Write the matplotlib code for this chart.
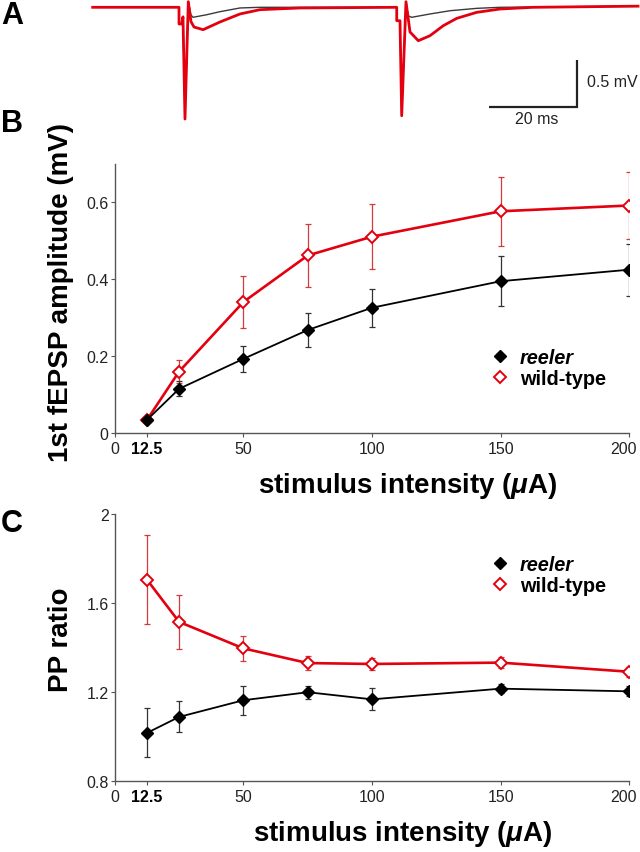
import matplotlib
matplotlib.use("Agg")
import matplotlib.pyplot as plt
from matplotlib.lines import Line2D
from matplotlib.transforms import ScaledTranslation

plt.rcParams['font.family'] = ['Liberation Sans', 'DejaVu Sans']
plt.rcParams['mathtext.fontset'] = 'custom'
plt.rcParams['mathtext.rm'] = 'Liberation Sans:bold'
plt.rcParams['mathtext.it'] = 'Liberation Sans:italic:bold'
plt.rcParams['mathtext.bf'] = 'Liberation Sans:bold'

# ---------------- data ----------------
# Panel A: example traces (time in ms, voltage in mV)
trace_wt_t = [0, 19.75, 19.75, 20.37, 20.66, 21.12, 21.88, 22.49, 23.18, 25.27, 29.13,
              33.71, 38.28, 47.44, 69.57, 69.57, 70.32, 70.71, 71.69, 72.61, 74.51,
              77.19, 80.23, 83.30, 87.87, 93.20, 100.76, 124.78]
trace_wt_v = [0, 0, -0.175, -0.175, -0.10, -1.173, 0.059, -0.150, -0.207, -0.235, -0.154,
              -0.070, -0.025, -0.007, 0.0, -0.141, -0.141, -1.139, 0.059, -0.259, -0.351,
              -0.298, -0.193, -0.116, -0.053, -0.018, 0.0, 0.012]
trace_rl_t = [0, 19.75, 19.75, 20.37, 20.66, 21.12, 21.88, 22.49, 22.95, 26.09, 29.13,
              33.71, 38.28, 69.57, 69.57, 70.32, 70.71, 71.69, 72.2, 73.0, 77.19, 81.76,
              87.87, 93.20, 124.78]
trace_rl_v = [0.003, 0.003, -0.175, -0.175, -0.10, -1.173, 0.059, -0.08, -0.105, -0.078,
              -0.046, -0.007, 0.0, 0.0, -0.141, -0.141, -1.139, 0.059, -0.09, -0.105,
              -0.070, -0.036, -0.011, 0.0, 0.012]
scale_ms = 20
scale_mv = 0.5

# Panels B and C
intensity = [12.5, 25, 50, 75, 100, 150, 200]
amp_wt = [0.034, 0.160, 0.341, 0.462, 0.511, 0.577, 0.592]
amp_wt_err = [0.005, 0.030, 0.067, 0.082, 0.084, 0.090, 0.087]
amp_rl = [0.034, 0.115, 0.193, 0.268, 0.326, 0.395, 0.425]
amp_rl_err = [0.005, 0.020, 0.033, 0.045, 0.050, 0.065, 0.068]
ppr_wt = [1.705, 1.515, 1.396, 1.330, 1.326, 1.332, 1.291]
ppr_wt_err = [0.20, 0.12, 0.055, 0.03, 0.025, 0.025, 0.022]
ppr_rl = [1.016, 1.088, 1.163, 1.199, 1.167, 1.215, 1.203]
ppr_rl_err = [0.11, 0.07, 0.065, 0.03, 0.05, 0.02, 0.022]

xticks = [0, 12.5, 50, 100, 150, 200]
xticklabels = ['0', '12.5', '50', '100', '150', '200']
amp_yticks = [0, 0.2, 0.4, 0.6]
amp_yticklabels = ['0', '0.2', '0.4', '0.6']
ppr_yticks = [0.8, 1.2, 1.6, 2.0]
ppr_yticklabels = ['0.8', '1.2', '1.6', '2']
labels = ['reeler', 'wild-type']

RED = '#e3000f'
ERR_RED = '#d43a3a'
BLACK = '#000000'

W, H = 640, 853
fig = plt.figure(figsize=(6.4, 8.53), dpi=100)

# ---------------- Panel A ----------------
axA = fig.add_axes([0, 1 - 130 / H, 1, 130 / H])
axA.set_xlim(-21.21, 125.24)
axA.set_ylim(-1.278, 0.0872)
axA.axis('off')
axA.plot(trace_rl_t, trace_rl_v, color='#3a3a3a', lw=1.0, zorder=2)
axA.plot(trace_wt_t, trace_wt_v, color=RED, lw=2.0, zorder=3, solid_joinstyle='round')
bx, by = 110.76, -1.05
axA.plot([bx - scale_ms, bx, bx], [by, by, by + scale_mv], color='#222222', lw=1.6,
         solid_joinstyle='miter', solid_capstyle='butt')
axA.text(bx + 2.3, by + scale_mv / 2 + 0.02, '0.5 mV', fontsize=11.5, ha='left', va='center',
         color='#222222')
axA.text(bx - scale_ms / 2 + 0.9, by - 0.115, '20 ms', fontsize=11.5, ha='center', va='center',
         color='#222222')


def style_axes(ax, yticks, yticklabels, ylim):
    ax.set_xlim(0, 200)
    ax.set_ylim(*ylim)
    for s in ['top', 'right']:
        ax.spines[s].set_visible(False)
    for s in ['left', 'bottom']:
        ax.spines[s].set_color('#555555')
        ax.spines[s].set_linewidth(1.0)
    ax.set_xticks(xticks)
    ax.set_xticklabels(xticklabels)
    ax.set_yticks(yticks)
    ax.set_yticklabels(yticklabels)
    ax.tick_params(direction='out', length=3, width=0.8, color='#555555',
                   labelsize=11.5, labelcolor='#222222')
    ax.tick_params(axis='y', pad=1.5)
    ax.tick_params(axis='x', pad=3)
    tls = ax.get_xticklabels()
    tls[1].set_fontweight('bold')
    tls[1].set_color('#000000')
    tls[-1].set_transform(tls[-1].get_transform() +
                          ScaledTranslation(-6 / 100, 0, fig.dpi_scale_trans))
    ax.patch.set_alpha(0)


def draw_series(ax, y_wt, e_wt, y_rl, e_rl):
    ax.errorbar(intensity, y_wt, yerr=e_wt, fmt='none', ecolor=ERR_RED, elinewidth=0.9,
                capsize=2.5, capthick=0.9, zorder=2)
    ax.plot(intensity, y_wt, color=RED, lw=1.9, marker='D', markersize=6,
            markerfacecolor='white', markeredgecolor=RED, markeredgewidth=1.4, zorder=3)
    ax.errorbar(intensity, y_rl, yerr=e_rl, fmt='none', ecolor='#333333', elinewidth=0.9,
                capsize=2.5, capthick=0.9, zorder=4)
    ax.plot(intensity, y_rl, color=BLACK, lw=1.3, marker='D', markersize=6,
            markerfacecolor=BLACK, markeredgecolor=BLACK, zorder=5)


def add_legend(ax, top_px):
    handles = [Line2D([], [], ls='none', marker='D', markersize=6.5, color=BLACK),
               Line2D([], [], ls='none', marker='D', markersize=6.5, markerfacecolor='white',
                      markeredgecolor=RED, markeredgewidth=1.4)]
    leg = ax.legend(handles, labels, loc='upper left',
                    bbox_to_anchor=(491 / W, 1 - top_px / H), bbox_transform=fig.transFigure,
                    frameon=False, borderpad=0, borderaxespad=0, handlelength=0.9,
                    handletextpad=0.55, labelspacing=0.1,
                    prop={'weight': 'bold', 'size': 14.3})
    leg.get_texts()[0].set_fontstyle('italic')


# ---------------- Panel B ----------------
axB = fig.add_axes([114.8 / W, 1 - 434 / H, (629.3 - 114.8) / W, (434 - 165) / H])
style_axes(axB, amp_yticks, amp_yticklabels, (0, 0.7))
draw_series(axB, amp_wt, amp_wt_err, amp_rl, amp_rl_err)
add_legend(axB, 349)

# ---------------- Panel C ----------------
axC = fig.add_axes([114.8 / W, 1 - 782 / H, (629.3 - 114.8) / W, (782 - 515) / H])
style_axes(axC, ppr_yticks, ppr_yticklabels, (0.8, 2.0))
draw_series(axC, ppr_wt, ppr_wt_err, ppr_rl, ppr_rl_err)
add_legend(axC, 556)

# ---------------- labels ----------------
xlabel = r'stimulus intensity ($\mu$A)'
fig.text(408 / W, 1 - 486 / H, xlabel, fontsize=20, fontweight='bold', ha='center', va='center')
fig.text(403 / W, 1 - 834 / H, xlabel, fontsize=20, fontweight='bold', ha='center', va='center')
fig.text(61 / W, 1 - 292 / H, '1st fEPSP amplitude (mV)', fontsize=20, fontweight='bold',
         rotation=90, ha='center', va='center')
fig.text(61 / W, 1 - 640 / H, 'PP ratio', fontsize=20, fontweight='bold',
         rotation=90, ha='center', va='center')

for letter, ypx in [('A', 24), ('B', 132), ('C', 532)]:
    fig.text(1 / W, 1 - ypx / H, letter, fontsize=22, fontweight='bold', ha='left',
             va='baseline')

fig.savefig('out.png', dpi=100)
